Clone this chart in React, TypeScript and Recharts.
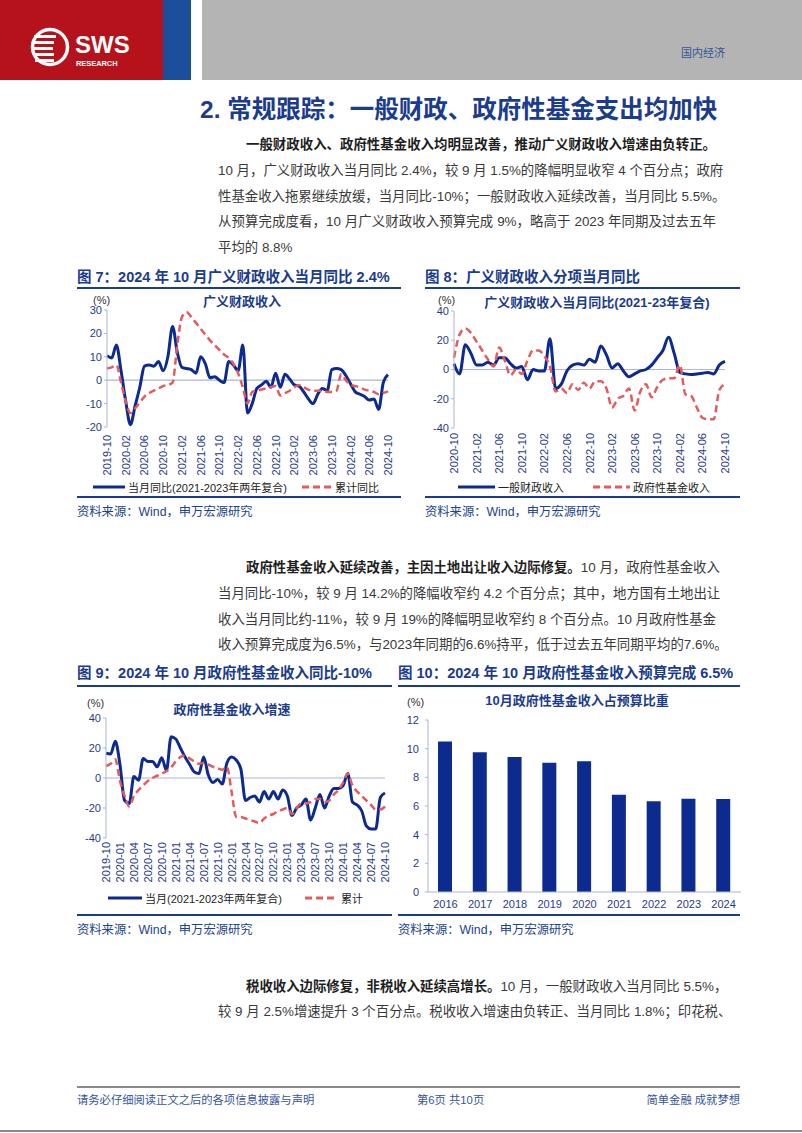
import React from "react";
import { LineChart, Line, BarChart, Bar, XAxis, YAxis, ReferenceLine } from "recharts";

// months 2019-10 .. 2024-10
const MONTHS = [
  "2019-10", "2019-11", "2019-12",
  "2020-01", "2020-02", "2020-03", "2020-04", "2020-05", "2020-06", "2020-07", "2020-08", "2020-09", "2020-10", "2020-11", "2020-12",
  "2021-01", "2021-02", "2021-03", "2021-04", "2021-05", "2021-06", "2021-07", "2021-08", "2021-09", "2021-10", "2021-11", "2021-12",
  "2022-01", "2022-02", "2022-03", "2022-04", "2022-05", "2022-06", "2022-07", "2022-08", "2022-09", "2022-10", "2022-11", "2022-12",
  "2023-01", "2023-02", "2023-03", "2023-04", "2023-05", "2023-06", "2023-07", "2023-08", "2023-09", "2023-10", "2023-11", "2023-12",
  "2024-01", "2024-02", "2024-03", "2024-04", "2024-05", "2024-06", "2024-07", "2024-08", "2024-09", "2024-10",
];

// 图7 广义财政收入
const broadMonthly = [
  10.5, 9.5, 15, 4, -9, -19, -11, -3, 6, 6.5, 6, 8, 4, 10, 23,
  12, 5.5, 5, 4.5, 3, 10, 7, 1, 1.5, 0, -1, 8,
  6.5, 4, 15, -14, -10, -3.5, -2, -0.5, -3, 3, -3, 2.5,
  0.5, -2, -2.5, -5, -8, -10, -6, -3.5, -4.5, 4.5, 5, 4.5,
  2, -1.5, -5, -6, -7, -8.5, -8, -12.5, -1, 2.4,
];
const broadCumulative = [
  5, 5.5, 6.5, -1, -9, -14, -12, -9.5, -7, -5.5, -4.5, -3.5, -2.5, -2, -1,
  15, 27, 29, 27, 24.5, 22, 19.5, 17, 15, 13, 11, 9.5,
  7, 3, -3, -10, -5, -4.5, -4, -3.5, -3, -2.5, -6.5, -5.5,
  -4.5, -3, -2, -3, -4, -4.5, -4.5, -4.5, -5, -5, -4.5, 2.5,
  0, -2, -2.5, -3, -4, -4.5, -5, -6, -5.5, -4.8,
];

// 图8 分项 (2020-10 .. 2024-10)
const MONTHS_B = MONTHS.slice(12);
const generalMonthly = [
  4, -3, 17, 11, 3, 3, 5, 3, 8, 8, 4, 1, 2, -7, 0, -1, -1, 21, -13, -10,
  -1, 3, 4, 3, 7, 5, 16, 10, 1, 4, -1, -5, -3, -1, 0, 3, 8, 13, 22, 11,
  -2, -3, -3.5, -3, -2.5, -2, -3, 3, 5.5,
];
const fundMonthlyB = [
  8, 24, 28, 25, 19, 13, 7, 2, 15, 6, -4, 0, -3, 6, 13, 13, 9, 2, -15, -13,
  -16, -10, -14, -9, -13, -8, -8, -13, -26, -20, -18, -13, -28, -15, -10, -19, -12, -7, -6, -6,
  3, -17, -18, -26, -33, -34, -34, -14, -10,
];

// 图9 政府性基金收入增速
const fundMonthly = [
  16.5, 16, 24.5, 9, -15, -17, 1, -1.5, 13, 11, 11, 7.5, 13.5, 5, 27.5,
  26, 20, 14, 9, 4, 3, 14, 2, -3, -1, -4, 10,
  14, 12, 6, -15, -13, -12, -16, -9, -14, -9, -14, -8,
  -12, -25, -20, -18, -14, -28, -20, -11, -20, -12, -7, -7,
  -5, 3, -16, -18, -22, -32, -34, -34, -13, -10,
];
const fundCumulative = [
  8, 9.5, 12.5, -2, -12, -19, -12, -8, -5, -2, 0, 1.5, 3, 4.5, 7,
  11, 14, 15, 13, 11, 9.5, 10, 9, 7.5, 6.5, 5.5, 7.5,
  -9, -26, -26, -27, -28, -29, -30, -27, -25, -24, -22, -21,
  -20, -24, -20, -17, -17, -16, -14, -14, -16, -15, -11, -8,
  -3, 3, -5, -9, -12, -15, -18, -21, -21, -19,
];

// 图10 10月政府性基金收入占预算比重
const YEARS = ["2016", "2017", "2018", "2019", "2020", "2021", "2022", "2023", "2024"];
const budgetShare = [10.5, 9.75, 9.42, 9.02, 9.12, 6.79, 6.33, 6.51, 6.49];

const NAVY = "#0d2b8e";
const DASH = "#e45b5e";
const TICK = "#1f3c88";
const AX = "#a9b6d6";
const BLUE = "#1b3c8c";
const SANS = '"Liberation Sans", Arial, "Noto Sans CJK SC", sans-serif';

const abs = (left: number, top: number): React.CSSProperties => ({ position: "absolute", left, top });

function RotTick(props: any) {
  const { x, y, payload } = props;
  return (
    <text
      x={x}
      y={y}
      dy={4}
      transform={`rotate(-90 ${x} ${y})`}
      textAnchor="end"
      fontSize={11}
      fill={TICK}
      fontFamily={SANS}
    >
      {payload.value}
    </text>
  );
}

type LineBlockProps = {
  left: number;
  top: number;
  width: number;
  height: number;
  rows: any[];
  domain: [number, number];
  ticks: number[];
  yWidth: number;
  right: number;
  interval: number;
  gap: number;
  xHeight: number;
};

function LineBlock(p: LineBlockProps) {
  return (
    <div style={abs(p.left, p.top)}>
      <LineChart width={p.width} height={p.height} data={p.rows} margin={{ top: 20, right: p.right, left: 0, bottom: 0 }}>
        <XAxis
          dataKey="m"
          interval={p.interval}
          axisLine={false}
          tickLine={false}
          tickSize={0}
          tickMargin={p.gap}
          height={p.xHeight}
          tick={(t: any) => <RotTick {...t} />}
        />
        <YAxis
          domain={p.domain}
          ticks={p.ticks}
          width={p.yWidth}
          axisLine={{ stroke: AX }}
          tickLine={{ stroke: AX }}
          tickSize={3}
          tickMargin={2}
          tick={{ fontSize: 11, fill: TICK, fontFamily: SANS }}
        />
        <ReferenceLine y={0} stroke={AX} strokeWidth={1.2} />
        <Line type="monotone" dataKey="a" stroke={NAVY} strokeWidth={3} dot={false} activeDot={false} isAnimationActive={false} />
        <Line type="monotone" dataKey="b" stroke={DASH} strokeWidth={2.5} strokeDasharray="7 4" dot={false} activeDot={false} isAnimationActive={false} />
      </LineChart>
    </div>
  );
}

function LegendKey({ x, y, w, dashed, label }: { x: number; y: number; w: number; dashed?: boolean; label: string }) {
  return (
    <div style={{ ...abs(x, y - 9), height: 18, display: "flex", alignItems: "center", whiteSpace: "nowrap" }}>
      <svg width={w} height={6} style={{ marginRight: 3 }}>
        <line x1={0} y1={3} x2={w} y2={3} stroke={dashed ? DASH : NAVY} strokeWidth={3} strokeDasharray={dashed ? "7 4" : undefined} />
      </svg>
      <span style={{ fontSize: 11, color: "#222", fontFamily: SANS }}>{label}</span>
    </div>
  );
}

function ChartTitle({ cx, y, text }: { cx: number; y: number; text: string }) {
  return (
    <div style={{ ...abs(cx - 150, y - 9), width: 300, textAlign: "center", fontSize: 13, fontWeight: 700, color: BLUE, fontFamily: SANS, lineHeight: "18px" }}>
      {text}
    </div>
  );
}

function Pct({ x, y }: { x: number; y: number }) {
  return <div style={{ ...abs(x, y - 8), fontSize: 11, color: "#333", fontFamily: SANS, lineHeight: "16px" }}>(%)</div>;
}

function TextRow({ x, y, last, children }: { x: number; y: number; last?: boolean; children: React.ReactNode }) {
  return (
    <div
      style={{
        ...abs(x, y - 10),
        width: 716 - x,
        height: 20,
        lineHeight: "20px",
        fontSize: 13.4,
        color: "#3a3a3a",
        fontFamily: SANS,
        whiteSpace: "nowrap",
        textAlign: last ? "left" : "justify",
        textAlignLast: last ? "left" : "justify",
      }}
    >
      {children}
    </div>
  );
}

const B = ({ children }: { children: React.ReactNode }) => <b style={{ color: "#1e1e1e" }}>{children}</b>;

function FigTitle({ x, y, text }: { x: number; y: number; text: string }) {
  return (
    <div style={{ ...abs(x, y - 10), fontSize: 14.5, fontWeight: 700, color: BLUE, fontFamily: SANS, lineHeight: "20px", whiteSpace: "nowrap" }}>
      {text}
    </div>
  );
}

function Rule({ x1, x2, y, w = 2, color = BLUE }: { x1: number; x2: number; y: number; w?: number; color?: string }) {
  return <div style={{ ...abs(x1, y - w / 2), width: x2 - x1, height: w, background: color }} />;
}

function Source({ x, y }: { x: number; y: number }) {
  return (
    <div style={{ ...abs(x, y - 9), fontSize: 12.3, color: "#20438f", fontFamily: SANS, lineHeight: "18px", whiteSpace: "nowrap" }}>
      资料来源：Wind，申万宏源研究
    </div>
  );
}

export default function App() {
  const rows1 = MONTHS.map((m, i) => ({ m, a: broadMonthly[i], b: broadCumulative[i] }));
  const rows2 = MONTHS_B.map((m, i) => ({ m, a: generalMonthly[i], b: fundMonthlyB[i] }));
  const rows3 = MONTHS.map((m, i) => ({ m, a: fundMonthly[i], b: fundCumulative[i] }));
  const rows4 = YEARS.map((y, i) => ({ y, v: budgetShare[i] }));

  return (
    <div style={{ position: "absolute", left: 0, top: 0, width: 802, height: 1133, background: "#fff", overflow: "hidden", fontFamily: SANS }}>
      {/* header */}
      <div style={{ ...abs(0, 0), width: 163, height: 80, background: "#b5121b" }} />
      <div style={{ ...abs(163, 0), width: 28, height: 80, background: "#1b4f9c" }} />
      <div style={{ ...abs(202, 0), width: 600, height: 80, background: "#b4b4b4" }} />
      <svg width={163} height={80} style={abs(0, 0)}>
        <circle cx={50} cy={47} r={17.5} fill="none" stroke="#fff" strokeWidth={3.5} />
        <rect x={34} y={35} width={22} height={3} fill="#fff" />
        <rect x={33} y={41} width={21} height={3} fill="#fff" />
        <rect x={33} y={47} width={20} height={3} fill="#fff" />
        <rect x={33} y={53} width={21} height={3} fill="#fff" />
        <rect x={35} y={59} width={19} height={3} fill="#fff" />
        <text x={75} y={53} fill="#fff" fontSize={24} fontWeight={700} fontFamily={SANS}>SWS</text>
        <text x={76} y={66} fill="#fff" fontSize={7.4} fontWeight={700} fontFamily={SANS}>RESEARCH</text>
      </svg>
      <div style={{ ...abs(681, 45), fontSize: 11, color: "#34559a", lineHeight: "16px" }}>国内经济</div>

      <div style={{ ...abs(200, 95), fontSize: 24.5, fontWeight: 700, color: BLUE, lineHeight: "30px", whiteSpace: "nowrap" }}>
        2. 常规跟踪：一般财政、政府性基金支出均加快
      </div>

      {/* paragraph 1 */}
      <TextRow x={246} y={145}><B>一般财政收入、政府性基金收入均明显改善，推动广义财政收入增速由负转正。</B></TextRow>
      <TextRow x={218} y={171}>10 月，广义财政收入当月同比 2.4%，较 9 月 1.5%的降幅明显收窄 4 个百分点；政府</TextRow>
      <TextRow x={218} y={197}>性基金收入拖累继续放缓，当月同比-10%；一般财政收入延续改善，当月同比 5.5%。</TextRow>
      <TextRow x={218} y={222}>从预算完成度看，10 月广义财政收入预算完成 9%，略高于 2023 年同期及过去五年</TextRow>
      <TextRow x={218} y={248} last>平均的 8.8%</TextRow>

      {/* fig 7 / 8 */}
      <FigTitle x={77} y={277} text="图 7：2024 年 10 月广义财政收入当月同比 2.4%" />
      <FigTitle x={425} y={277} text="图 8：广义财政收入分项当月同比" />
      <Rule x1={77} x2={401} y={288} />
      <Rule x1={425} x2={740} y={288} />

      <Pct x={93} y={300} />
      <ChartTitle cx={242} y={302} text="广义财政收入" />
      <LineBlock left={75} top={290} width={330} height={187} rows={rows1} domain={[-20, 30]} ticks={[-20, -10, 0, 10, 20, 30]} yWidth={32} right={17} interval={3} gap={8} xHeight={50} />
      <LegendKey x={93} y={487} w={32} label="当月同比(2021-2023年两年复合)" />
      <LegendKey x={302} y={487} w={30} dashed label="累计同比" />

      <Pct x={438} y={300} />
      <ChartTitle cx={597} y={303} text="广义财政收入当月同比(2021-23年复合)" />
      <LineBlock left={400} top={291} width={340} height={187} rows={rows2} domain={[-40, 40]} ticks={[-40, -20, 0, 20, 40]} yWidth={54} right={15} interval={3} gap={5} xHeight={50} />
      <LegendKey x={458} y={487} w={37} label="一般财政收入" />
      <LegendKey x={593} y={487} w={37} dashed label="政府性基金收入" />

      <Rule x1={77} x2={401} y={497} />
      <Rule x1={425} x2={740} y={497} />
      <Source x={77} y={512} />
      <Source x={425} y={512} />

      {/* paragraph 2 */}
      <TextRow x={246} y={568}><B>政府性基金收入延续改善，主因土地出让收入边际修复。</B>10 月，政府性基金收入</TextRow>
      <TextRow x={218} y={594}>当月同比-10%，较 9 月 14.2%的降幅收窄约 4.2 个百分点；其中，地方国有土地出让</TextRow>
      <TextRow x={218} y={620}>收入当月同比约-11%，较 9 月 19%的降幅明显收窄约 8 个百分点。10 月政府性基金</TextRow>
      <TextRow x={218} y={645}>收入预算完成度为6.5%，与2023年同期的6.6%持平，低于过去五年同期平均的7.6%。</TextRow>

      {/* fig 9 / 10 */}
      <FigTitle x={77} y={673} text="图 9：2024 年 10 月政府性基金收入同比-10%" />
      <FigTitle x={398} y={673} text="图 10：2024 年 10 月政府性基金收入预算完成 6.5%" />
      <Rule x1={77} x2={392} y={686} />
      <Rule x1={398} x2={740} y={686} />

      <Pct x={87} y={703} />
      <ChartTitle cx={232} y={710} text="政府性基金收入增速" />
      <LineBlock left={75} top={698} width={320} height={185} rows={rows3} domain={[-40, 40]} ticks={[-40, -20, 0, 20, 40]} yWidth={31} right={10} interval={2} gap={4} xHeight={45} />
      <LegendKey x={108} y={898} w={34} label="当月(2021-2023年两年复合)" />
      <LegendKey x={305} y={898} w={33} dashed label="累计" />

      <Pct x={407} y={702} />
      <ChartTitle cx={577} y={701} text="10月政府性基金收入占预算比重" />
      <div style={abs(395, 700)}>
        <BarChart width={346} height={212} data={rows4} margin={{ top: 20, right: 0, left: 0, bottom: 0 }}>
          <XAxis dataKey="y" axisLine={{ stroke: AX }} tickLine={false} height={20} tick={{ fontSize: 11, fill: TICK, fontFamily: SANS }} />
          <YAxis
            domain={[0, 12]}
            ticks={[0, 2, 4, 6, 8, 10, 12]}
            width={33}
            axisLine={{ stroke: AX }}
            tickLine={{ stroke: AX }}
            tickSize={3}
            tickMargin={6}
            tick={{ fontSize: 11, fill: TICK, fontFamily: SANS }}
          />
          <Bar dataKey="v" fill={NAVY} barSize={14} isAnimationActive={false} />
        </BarChart>
      </div>

      <Rule x1={77} x2={392} y={915} />
      <Rule x1={398} x2={740} y={915} />
      <Source x={77} y={930} />
      <Source x={398} y={930} />

      {/* paragraph 3 */}
      <TextRow x={246} y={987}><B>税收收入边际修复，非税收入延续高增长。</B>10 月，一般财政收入当月同比 5.5%，</TextRow>
      <TextRow x={218} y={1012}>较 9 月 2.5%增速提升 3 个百分点。税收收入增速由负转正、当月同比 1.8%；印花税、</TextRow>

      {/* footer */}
      <Rule x1={77} x2={740} y={1087} color="#8a8a8a" />
      <div style={{ ...abs(77, 1092), fontSize: 11.3, color: "#34559a", lineHeight: "16px", whiteSpace: "nowrap" }}>请务必仔细阅读正文之后的各项信息披露与声明</div>
      <div style={{ ...abs(417, 1092), fontSize: 11.3, color: "#34559a", lineHeight: "16px", whiteSpace: "nowrap" }}>第6页 共10页</div>
      <div style={{ ...abs(600, 1092), width: 140, textAlign: "right", fontSize: 11.3, color: "#34559a", lineHeight: "16px", whiteSpace: "nowrap" }}>简单金融 成就梦想</div>
      <Rule x1={0} x2={802} y={1131} w={2} color="#8a8a8a" />
    </div>
  );
}
